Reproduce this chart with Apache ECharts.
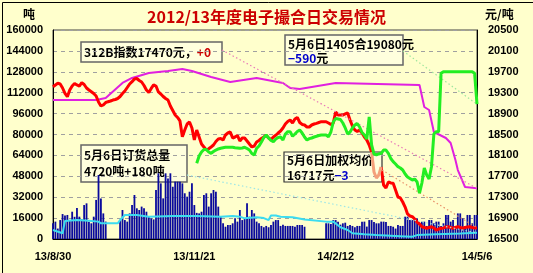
<!DOCTYPE html>
<html><head><meta charset="utf-8">
<script src="https://cdn.jsdelivr.net/npm/echarts@6/dist/echarts.min.js"></script>
<style>html,body{margin:0;padding:0;background:#FFFFCC;}#c{width:533px;height:273px;}</style>
</head><body><div id="c"></div>
<script>
const title = '2012/13年度电子撮合日交易情况';
const tickLabels = ['13/8/30','13/11/21','14/2/12','14/5/6'];
const tickStep = 59;
// daily volume (tonnes), left axis; null = no trading
const volume = [12000,13300,8000,14500,19100,18000,18400,14500,20900,17000,23700,17100,15000,26000,27300,13300,12000,17100,29900,49000,31100,19600,13300,
null,null,null,null,null,
14500,22200,14500,13300,19600,26000,33700,23500,22200,24800,23500,20900,17100,15800,15000,37500,50300,42600,31100,50300,46400,50300,40000,43900,43900,43900,42600,35000,32400,36200,42600,26000,
20000,19600,20900,33700,35000,24800,35000,37500,36200,24800,17100,12000,9400,10700,10700,12000,15800,13300,22200,14500,15800,27300,17100,22200,19600,13300,12000,10000,9000,10000,9000,10700,13300,14500,14500,10000,11000,10000,10000,10000,10000,9400,10700,10700,10700,9400,
null,null,null,null,null,null,null,null,
12000,12000,11500,14500,14500,13300,11000,12000,12500,10000,10700,10000,9000,10000,10000,13300,13300,9500,14500,14500,13000,12000,12000,13300,13300,13000,10000,10000,9400,8000,10700,10000,10000,17100,17100,14500,14500,15800,15800,12000,13300,13300,10000,14500,14500,12000,13300,13300,10000,12000,18400,18400,13300,14500,10000,19600,19600,15800,10000,18400,18400,12000,18400,18400];
// total orders (tonnes), left axis: [day, value]
const orders = [[0,6900],[4,4400],[5,13800],[10,14500],[15,14000],[19,13300],[20,12000],[27,12000],[28,14500],[30,18400],[35,18400],[40,17100],[50,17600],[60,17600],[70,17100],[75,17600],[78,17100],[80,15800],[85,16600],[88,16000],[90,14500],[91,18000],[93,18000],[95,17000],[100,16600],[105,15000],[114,13300],[117,13300],[120,9000],[123,6900],[125,4400],[130,3600],[135,3000],[145,2200],[150,1800],[152,3000],[160,3600],[170,4200],[177,4720]];
// 312 index (yuan/t), right axis: [day, value]
const index312 = [[0,19160],[18,19160],[22,19198],[29,19486],[33,19582],[40,19677],[48,19716],[54,19754],[58,19716],[66,19601],[74,19505],[85,19582],[96,19486],[99,19390],[103,19371],[118,19486],[153,19448],[155,19026],[157,18969],[159,18548],[164,18433],[166,18337],[168,18012],[169,17820],[172,17495],[177,17470]];
// weighted average price (yuan/t), right axis
const avgPrice = [19415,19448,19480,19467,19390,19289,19224,19352,19428,19476,
19448,19428,19492,19457,19390,19352,19319,19285,19237,19122,
19046,19065,19113,19128,19141,19160,19170,19189,19227,19285,
19333,19400,19467,19511,19562,19572,19534,19505,19438,19352,
19304,19381,19448,19428,19314,19275,19227,19189,19160,19046,
18959,18873,18826,18759,18458,18586,18701,18739,18625,18395,
18586,18452,18318,18261,18203,18226,18261,18299,18366,18414,
18424,18395,18491,18529,18548,18433,18452,18481,18376,18433,
18433,18376,18318,18261,18280,18357,18385,18424,18452,18485,
18433,18404,18452,18485,18529,18567,18625,18701,18749,18778,
18720,18797,18826,18730,18692,18682,18644,18644,18682,18701,
18714,18730,18745,18745,18745,18720,18692,18720,18931,18873,
18873,18873,18893,18912,18778,18663,18586,18558,18586,18529,
18452,18395,18299,18165,null,null,null,17878,17534,17476,
17591,17572,17566,17438,17304,17285,17208,17112,16979,16940,
16927,16883,16825,16787,16735,16720,16705,16720,16735,16711,
16672,16691,16705,16711,16730,16735,16720,16705,16720,16735,
16720,16705,16720,16730,16735,16720,16711,16717];
// segment of the average price drawn in a lighter colour: [day, value]
const avgPriceAlt = [[133,18165],[134,17782],[135,17668],[136,17725],[137,17878]];
// 1405 contract price (yuan/t), right axis; starts at day 60
const c1405Start = 60;
const c1405 = [17949,18089,18165,18213,18213,18165,18140,18175,18203,18223,
18236,18246,18255,18255,18255,18255,18246,18242,18236,18242,
18255,18232,18203,18136,18108,18236,18280,18357,18443,18491,
18433,18385,18362,18414,18443,18452,18395,18510,18554,18554,
18466,18510,18558,18586,18529,18452,18395,18420,18433,18452,
18466,18481,18491,18491,18491,18458,18548,18739,18806,18797,
18787,18720,18625,18510,18548,18625,18682,18711,18644,18538,
18491,18414,18835,18299,18127,18108,18127,18140,18203,18203,
18140,18041,17980,17936,17884,17859,17821,17744,17687,17658,
17629,17648,17591,17375,17572,17859,17725,17648,17884,18510,
18554,18554,19671,19702,19702,19702,19702,19702,19702,19702,
19702,19702,19702,19702,19702,19702,19671,19080];

const lastDay = 177;
const volData = volume.map((v,i)=>[i,v]).filter(d=>d[1]!==null);
const avgData = avgPrice.map((v,i)=>[i, v===null?'-':v]);
const c1405Data = c1405.map((v,i)=>[i+c1405Start,v]);

const numFont = 'Liberation Sans';
const cjk = '"Noto Sans CJK SC"';
function leader(x,y,day,val,color){
  return {silent:true,symbol:'none',animation:false,label:{show:false},
    lineStyle:{type:[1.5,2.5],color:color,width:1.2},
    data:[[{x:x,y:y},{coord:[day,val]}]]};
}
const chart = echarts.init(document.getElementById('c'), null, {renderer:'canvas'});
chart.setOption({
  backgroundColor:'#FFFFCC',
  animation:false,
  title:{text:title,left:'center',top:4,textStyle:{color:'#CC0000',fontSize:16,fontWeight:'bold',fontFamily:cjk}},
  grid:{left:53,right:56,top:30,bottom:34,show:true,borderColor:'#444',borderWidth:1,backgroundColor:'transparent'},
  xAxis:{type:'value',min:0,max:lastDay,interval:tickStep,
    axisLine:{show:true,lineStyle:{color:'#000'}},axisTick:{show:false},splitLine:{show:false},
    axisLabel:{formatter:v=>tickLabels[Math.round(v/tickStep)]||'',color:'#000',fontWeight:'bold',fontSize:11,fontFamily:numFont,margin:12}},
  yAxis:[
    {type:'value',min:0,max:160000,interval:16000,
     name:'吨',nameLocation:'end',nameGap:10,nameTextStyle:{color:'#000',fontWeight:'bold',fontSize:12,fontFamily:cjk,align:'right',padding:[0,18,0,0]},
     axisLine:{show:true,lineStyle:{color:'#000'}},axisTick:{show:false},
     splitLine:{show:true,lineStyle:{color:'#A0A0A0',type:[4,4]}},
     axisLabel:{formatter:v=>String(v),color:'#000',fontWeight:'bold',fontSize:11,fontFamily:numFont,margin:10}},
    {type:'value',min:16500,max:20500,alignTicks:true,position:'right',
     name:'元/吨',nameLocation:'end',nameGap:10,nameTextStyle:{color:'#000',fontWeight:'bold',fontSize:12,fontFamily:cjk,align:'left',padding:[0,0,0,8]},
     axisLine:{show:true,lineStyle:{color:'#000'}},axisTick:{show:false},splitLine:{show:false},
     axisLabel:{formatter:v=>String(Math.round(v)),color:'#000',fontWeight:'bold',fontSize:11,fontFamily:numFont,margin:11}}
  ],
  series:[
    {name:'成交量',type:'bar',data:volData,yAxisIndex:0,barWidth:1.8,itemStyle:{color:'#0A0A9C'},z:1},
    {name:'订货总量',type:'line',data:orders,yAxisIndex:0,symbol:'none',lineStyle:{color:'#3CDCF0',width:2},z:2,
     markLine:leader(187,175,lastDay,4720,'#9EE6E6')},
    {name:'312指数',type:'line',data:index312,yAxisIndex:1,symbol:'none',lineStyle:{color:'#E020E0',width:2},z:3,
     markLine:leader(222,50,lastDay,17470,'#E87AB8')},
    {name:'加权均价',type:'line',data:avgData,yAxisIndex:1,symbol:'none',connectNulls:false,lineStyle:{color:'#FF0000',width:3},z:4,
     markLine:leader(382,170,lastDay,16717,'#E8906A')},
    {name:'加权均价2',type:'line',data:avgPriceAlt,yAxisIndex:1,symbol:'none',lineStyle:{color:'#F4A07A',width:3},z:4},
    {name:'1405',type:'line',data:c1405Data,yAxisIndex:1,symbol:'none',lineStyle:{color:'#22EE22',width:3},z:5,
     markLine:leader(403,51,lastDay,19080,'#9EE69E')}
  ],
  graphic:[
    {type:'rect',left:0,top:0,z:100,shape:{x:0.5,y:0.5,width:532,height:272},style:{fill:'none',stroke:'#000',lineWidth:1},silent:true},
    {type:'group',z:100,children:[
      {type:'rect',shape:{x:81,y:42,width:141,height:20},style:{fill:'#FFFFDD',stroke:'#666',lineWidth:1.5}},
      {type:'text',x:84,y:52,style:{text:'{b|312B指数17470元，}{r|+0}',verticalAlign:'middle',
        rich:{b:{fill:'#000',fontWeight:'bold',fontSize:12,fontFamily:cjk},r:{fill:'#CC0000',fontWeight:'bold',fontSize:12,fontFamily:cjk}}}},
      {type:'rect',shape:{x:285,y:35,width:118,height:30},style:{fill:'#FFFFDD',stroke:'#666',lineWidth:1.5}},
      {type:'text',x:288,y:44,style:{text:'5月6日1405合19080元',verticalAlign:'middle',fill:'#000',fontWeight:'bold',fontSize:12,fontFamily:cjk}},
      {type:'text',x:288,y:58,style:{text:'{u|−590}{b|元}',verticalAlign:'middle',
        rich:{b:{fill:'#000',fontWeight:'bold',fontSize:12,fontFamily:cjk},u:{fill:'#0000CC',fontWeight:'bold',fontSize:12,fontFamily:cjk}}}},
      {type:'rect',shape:{x:81,y:145,width:106,height:37},style:{fill:'#FFFFDD',stroke:'#666',lineWidth:1.5}},
      {type:'text',x:84,y:155,style:{text:'5月6日订货总量',verticalAlign:'middle',fill:'#000',fontWeight:'bold',fontSize:12,fontFamily:cjk}},
      {type:'text',x:84,y:171,style:{text:'4720吨+180吨',verticalAlign:'middle',fill:'#000',fontWeight:'bold',fontSize:12,fontFamily:cjk}},
      {type:'rect',shape:{x:284,y:152,width:98,height:30},style:{fill:'#FFFFDD',stroke:'#333',lineWidth:1.2}},
      {type:'text',x:287,y:160,style:{text:'5月6日加权均价',verticalAlign:'middle',fill:'#000',fontWeight:'bold',fontSize:12,fontFamily:cjk}},
      {type:'text',x:287,y:175,style:{text:'{b|16717元}{u|−3}',verticalAlign:'middle',
        rich:{b:{fill:'#000',fontWeight:'bold',fontSize:12,fontFamily:cjk},u:{fill:'#0000CC',fontWeight:'bold',fontSize:12,fontFamily:cjk}}}}
    ]}
  ]
});
</script></body></html>
